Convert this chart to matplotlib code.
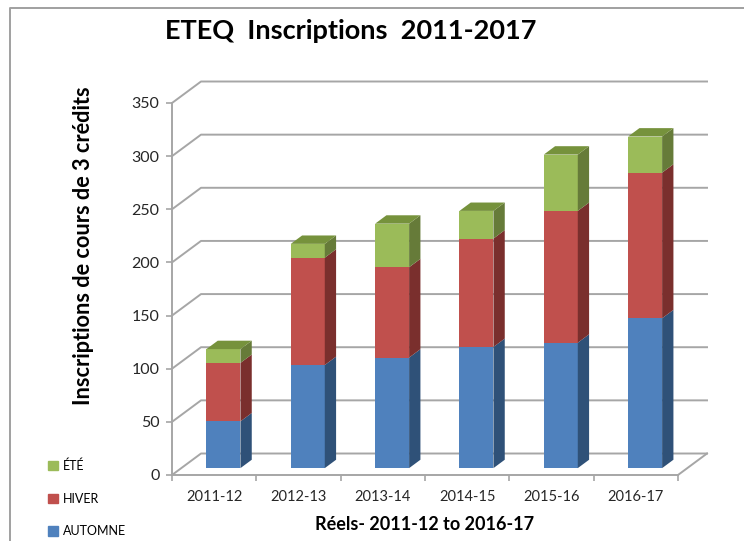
import numpy as np
import matplotlib
matplotlib.use("Agg")
import matplotlib.pyplot as plt
from matplotlib.lines import Line2D
from matplotlib.patches import Polygon, Patch

years = ['2011-12', '2012-13', '2013-14', '2014-15', '2015-16', '2016-17']
automne = [44, 97, 104, 114, 118, 141]
hiver = [55, 101, 85, 102, 124, 137]
ete = [13, 13, 41, 26, 53, 34]
yticks = [0, 50, 100, 150, 200, 250, 300, 350]

plt.rcParams['font.family'] = ['Lato', 'DejaVu Sans']

W, H = 744, 541
fig = plt.figure(figsize=(W/100, H/100), dpi=100)
ax = fig.add_axes([172/W, 1-475/H, (678-172)/W, (475-103)/H])
ax.set_xlim(0, 6)
ax.set_ylim(0, 350)

# 3d look: shift of the back wall in data units
DX = 29/84.3
DY = 21.5/1.063
grid_c = '#a6a6a6'

def proj(x, y, d):
    return x + d*DX, y + d*DY

for v in yticks:
    p0 = proj(0, v, 0)
    p1 = proj(0, v, 1)
    p2 = proj(6, v, 1)
    ax.plot([p0[0], p1[0], p2[0]], [p0[1], p1[1], p2[1]], color=grid_c, lw=1.4, clip_on=False, zorder=1)
p0 = proj(6, 0, 0)
p1 = proj(6, 0, 1)
ax.plot([p0[0], p1[0]], [p0[1], p1[1]], color=grid_c, lw=1.4, clip_on=False, zorder=1)

series = [
    (automne, '#4f81bd', '#2f5178', '#3f6797', 'AUTOMNE'),
    (hiver, '#c0504d', '#7a2f2d', '#99403d', 'HIVER'),
    (ete, '#9bbb59', '#667b39', '#76923c', 'ÉTÉ'),
]

x = np.arange(len(years)) + 0.5
width = 0.403
d1 = 0.32
d2 = 0.71
bottom = np.zeros(len(years))
for vals, col, side, top, name in series:
    vals = np.array(vals)
    x1, y1 = proj(x, bottom, d1)
    ax.bar(x1, vals, width=width, bottom=y1, color=col, clip_on=False, zorder=3)
    for i in range(len(years)):
        r = x[i] + width/2
        l = x[i] - width/2
        b = bottom[i]
        t = b + vals[i]
        ax.add_patch(Polygon([proj(r, b, d1), proj(r, t, d1), proj(r, t, d2), proj(r, b, d2)],
                             facecolor=side, edgecolor='none', clip_on=False, zorder=3))
        if name == 'ÉTÉ':
            ax.add_patch(Polygon([proj(l, t, d1), proj(r, t, d1), proj(r, t, d2), proj(l, t, d2)],
                                 facecolor=top, edgecolor='none', clip_on=False, zorder=3))
    bottom = bottom + vals

for s in ['top', 'right']:
    ax.spines[s].set_visible(False)
for s in ['left', 'bottom']:
    ax.spines[s].set_color(grid_c)
    ax.spines[s].set_linewidth(1.4)
ax.patch.set_alpha(0)
ax.set_yticks(yticks)
ax.set_xticks(np.arange(7))
ax.set_xticklabels([])
ax.set_xticks(x, minor=True)
ax.set_xticklabels(years, minor=True, fontsize=10.5, color='#262626')
ax.tick_params(axis='x', which='minor', length=0, pad=11)
ax.tick_params(axis='x', which='major', length=4, color=grid_c, width=1.2)
ax.tick_params(axis='y', length=4, color=grid_c, width=1.2, labelsize=11.5, labelcolor='#262626', pad=5)

fig.text(351/W, 1-31/H, 'ETEQ  Inscriptions  2011-2017', fontsize=19.5, fontweight='bold', ha='center', va='center')
fig.text(84/W, 1-246/H, 'Inscriptions de cours de 3 crédits', fontsize=15.7, fontweight='bold',
         rotation=90, ha='center', va='center')
fig.text(425/W, 1-524/H, 'Réels- 2011-12 to 2016-17', fontsize=13, fontweight='bold', ha='center', va='center')

# outer frame of the chart: only left and top show, the rest is cropped
fig.add_artist(Line2D([10/W, 10/W, 1], [0, 1-8/H, 1-8/H], transform=fig.transFigure, color='#a0a0a0', lw=1.4))

handles = [Patch(color=s[1], label=s[4]) for s in reversed(series)]
fig.legend(handles=handles, loc='lower left', bbox_to_anchor=(44/W, 1-541/H), frameon=False,
           fontsize=9, handlelength=0.8, handleheight=0.8, handletextpad=0.45, labelspacing=1.65,
           borderpad=0.3, borderaxespad=0)

fig.savefig('out.png', dpi=100)
